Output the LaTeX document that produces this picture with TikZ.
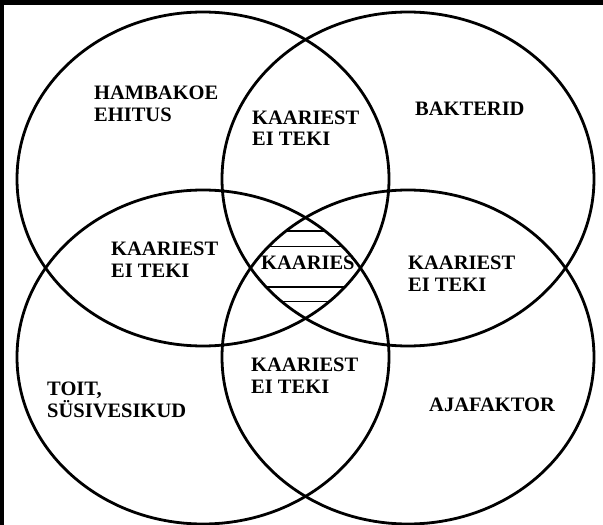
\documentclass[tikz,border=0pt]{standalone}
\usepackage{fontspec}
\setmainfont{Liberation Serif}
\begin{document}
\begin{tikzpicture}[x=1pt,y=-1pt,
  ring/.style={line width=2.8pt},
  hatch/.style={line width=1.8pt},
  lab/.style={anchor=north west,inner sep=0pt,align=left,
    font=\fontsize{20.5}{21.5}\selectfont\bfseries}]
\useasboundingbox (0,0) rectangle (603,525);
\fill[white] (0,0) rectangle (603,525);
\fill[black] (0,0) rectangle (603,5);
\fill[black] (0,0) rectangle (3.5,525);
% hatching in the centre lens
\begin{scope}
  \clip (203,179) ellipse [x radius=186pt, y radius=167pt];
  \clip (408,179) ellipse [x radius=186pt, y radius=167pt];
  \clip (203,357) ellipse [x radius=186pt, y radius=167pt];
  \clip (408,357) ellipse [x radius=186pt, y radius=167pt];
  \foreach \yy in {231,246.5,287,301.5}
    \draw[hatch] (200,\yy) -- (410,\yy);
\end{scope}
% the four sets
\draw[ring] (203,179) ellipse [x radius=186pt, y radius=167pt];
\draw[ring] (408,179) ellipse [x radius=186pt, y radius=167pt];
\draw[ring] (203,357) ellipse [x radius=186pt, y radius=167pt];
\draw[ring] (408,357) ellipse [x radius=186pt, y radius=167pt];
% labels
\node[lab] (tl) at (94,86) {HAMBAKOE\\EHITUS};
\node[lab] (tr) at (415,102) {BAKTERID};
\node[lab] (bl) at (47,382) {TOIT,\\SÜSIVESIKUD};
\node[lab] (br) at (429,398) {AJAFAKTOR};
\node[lab] (top) at (252,110.5) {KAARIEST\\EI TEKI};
\node[lab] (left) at (111,242) {KAARIEST\\EI TEKI};
\node[lab] (right) at (408,256) {KAARIEST\\EI TEKI};
\node[lab] (bottom) at (251,358) {KAARIEST\\EI TEKI};
\node[lab] (mid) at (261,256) {KAARIES};
\end{tikzpicture}
\end{document}
